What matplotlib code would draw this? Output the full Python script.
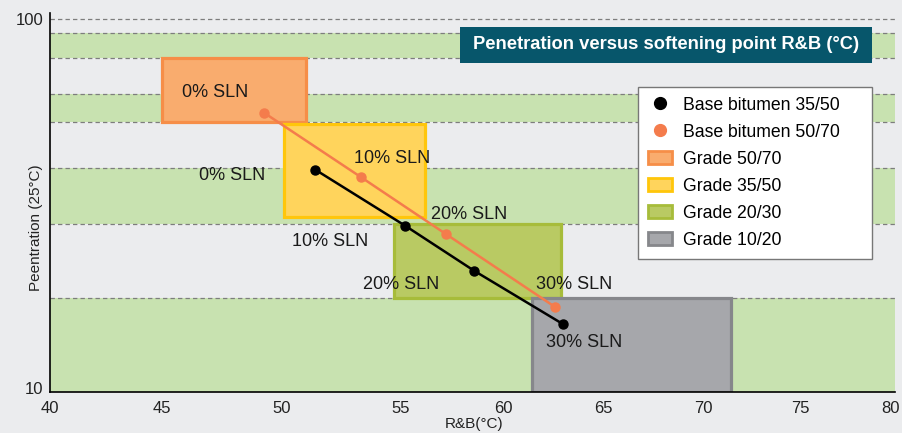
import numpy as np
import matplotlib
matplotlib.use('Agg')
import matplotlib.pyplot as plt
from matplotlib.patches import Rectangle, Patch
from matplotlib.lines import Line2D
import matplotlib.transforms as mtransforms

# ---------------- data ----------------
sln_levels = [0, 10, 20, 30]

rb_3550 = [51.4, 55.2, 58.6, 63.0]
pen_3550 = [39.4, 27.9, 21.1, 15.2]

rb_5070 = [49.25, 53.3, 57.2, 62.6]
pen_5070 = [56.0, 37.7, 26.5, 16.9]

grade_names = ['Grade 50/70', 'Grade 35/50', 'Grade 20/30', 'Grade 10/20']
grade_rb_min = [45.0, 50.1, 54.7, 61.45]
grade_rb_max = [51.0, 56.2, 62.9, 71.45]
grade_pen_min = [53.0, 29.5, 17.9, 10.0]
grade_pen_max = [78.6, 52.3, 28.2, 17.9]

band_low = [10.0, 28.2, 53.0, 78.6]
band_high = [17.9, 39.9, 62.9, 91.7]
grid_levels = [17.9, 28.2, 39.9, 53.0, 62.9, 78.6, 91.7, 100]

x_ticks = [40, 45, 50, 55, 60, 65, 70, 75, 80]
y_ticks = [10, 100]

title = 'Penetration versus softening point R&B (°C)'
series_names = ['Base bitumen 35/50', 'Base bitumen 50/70']

# ---------------- style ----------------
BG = '#EBECEE'
BAND = '#C8E2B0'
TITLE_BG = '#07566B'
BLACK = '#000000'
ORANGE = '#F47C4C'
grade_fill = ['#F9AC6E', '#FFD45C', '#B9CA63', '#A6A7AB']
grade_edge = ['#F68E48', '#FFC60B', '#A7BC3A', '#86878B']

# piecewise-linear x scale (tick spacing of the original axis)
X_KNOTS = np.array([0, 112, 232, 351, 453, 553, 653, 750, 845], float)
XT = np.array(x_ticks, float)


def fwd(v):
    v = np.asarray(v, float)
    out = np.interp(v, XT, X_KNOTS)
    lo_s = (X_KNOTS[1] - X_KNOTS[0]) / (XT[1] - XT[0])
    hi_s = (X_KNOTS[-1] - X_KNOTS[-2]) / (XT[-1] - XT[-2])
    out = np.where(v < XT[0], X_KNOTS[0] + (v - XT[0]) * lo_s, out)
    out = np.where(v > XT[-1], X_KNOTS[-1] + (v - XT[-1]) * hi_s, out)
    return out


def inv(p):
    p = np.asarray(p, float)
    out = np.interp(p, X_KNOTS, XT)
    lo_s = (XT[1] - XT[0]) / (X_KNOTS[1] - X_KNOTS[0])
    hi_s = (XT[-1] - XT[-2]) / (X_KNOTS[-1] - X_KNOTS[-2])
    out = np.where(p < X_KNOTS[0], XT[0] + (p - X_KNOTS[0]) * lo_s, out)
    out = np.where(p > X_KNOTS[-1], XT[-1] + (p - X_KNOTS[-1]) * hi_s, out)
    return out


plt.rcParams['font.family'] = ['Liberation Sans', 'DejaVu Sans']

fig = plt.figure(figsize=(9.02, 4.33), dpi=100, facecolor=BG)
ax = fig.add_axes([50 / 902, 41 / 433, 845 / 902, 379 / 433])
ax.set_facecolor(BG)

ax.set_yscale('log')
ax.set_xscale('function', functions=(fwd, inv))
ax.set_xlim(40, 80)
ax.set_ylim(10, 103.6)

# bands
for lo, hi in zip(band_low, band_high):
    ax.axhspan(lo, hi, color=BAND, lw=0, zorder=0)
for g in grid_levels:
    ax.axhline(g, color='#7d7d7d', lw=0.9, ls=(0, (3.5, 2.5)), zorder=1)

# grade rectangles
for i in range(len(grade_names)):
    ax.add_patch(Rectangle((grade_rb_min[i], grade_pen_min[i]),
                           grade_rb_max[i] - grade_rb_min[i],
                           grade_pen_max[i] - grade_pen_min[i],
                           facecolor=grade_fill[i], edgecolor=grade_edge[i],
                           lw=2.3, zorder=2))

# lines
ax.plot(rb_5070, pen_5070, color=ORANGE, lw=1.8, marker='o', ms=6.5, zorder=4)
ax.plot(rb_3550, pen_3550, color=BLACK, lw=1.8, marker='o', ms=6.5, zorder=5)

labels = [f'{s}% SLN' for s in sln_levels]
off_black = [(-83, -6), (-75, -16), (-73, -14), (21, -18)]
off_orange = [(-49, 20), (32, 18), (23, 20), (19, 22)]
for i, lab in enumerate(labels):
    ax.annotate(lab, (rb_3550[i], pen_3550[i]), xytext=off_black[i],
                textcoords='offset pixels', ha='center', va='center',
                fontsize=13, color='#1a1a1a', zorder=6)
    ax.annotate(lab, (rb_5070[i], pen_5070[i]), xytext=off_orange[i],
                textcoords='offset pixels', ha='center', va='center',
                fontsize=13, color='#1a1a1a', zorder=6)

# axes styling
for s in ['top', 'right']:
    ax.spines[s].set_visible(False)
for s in ['left', 'bottom']:
    ax.spines[s].set_color('black')
    ax.spines[s].set_linewidth(1.2)
ax.set_xticks(x_ticks)
ax.set_xticklabels([str(t) for t in x_ticks])
ax.set_yticks(y_ticks)
ax.set_yticklabels([str(t) for t in y_ticks])
ax.yaxis.set_minor_locator(matplotlib.ticker.NullLocator())
ax.tick_params(axis='both', length=0, labelsize=12, colors='#222222')
ax.tick_params(axis='x', pad=6.5)
ax.tick_params(axis='y', pad=5)

# keep the last x tick label inside the figure
last = ax.get_xticklabels()[-1]
last.set_transform(last.get_transform() +
                   mtransforms.ScaledTranslation(-4 / 100, 0, fig.dpi_scale_trans))
# lift "10" slightly like the original
first_y = ax.get_yticklabels()[0]
first_y.set_transform(first_y.get_transform() +
                      mtransforms.ScaledTranslation(0, 4 / 100, fig.dpi_scale_trans))

ax.set_ylabel('Peentration (25°C)', fontsize=11, color='#222222')
ax.yaxis.set_label_coords(-0.008, 0.433)
ax.set_xlabel('R&B(°C)', fontsize=11, color='#222222')
ax.xaxis.set_label_coords(0.5018, -0.066)

# title box
ax.add_patch(Rectangle((0.4852, 0.868), 0.4876, 0.095, transform=ax.transAxes,
                       facecolor=TITLE_BG, edgecolor='none', zorder=7))
ax.text(0.729, 0.9156, title, transform=ax.transAxes, ha='center', va='center',
        color='white', fontweight='bold', fontsize=13.2, zorder=8)

# legend
handles = [
    Line2D([], [], marker='o', ls='', ms=8.5, color=BLACK),
    Line2D([], [], marker='o', ls='', ms=8.5, color=ORANGE),
]
for i in range(len(grade_names)):
    handles.append(Patch(facecolor=grade_fill[i], edgecolor=grade_edge[i], lw=2))
leg = ax.legend(handles, series_names + grade_names,
                bbox_to_anchor=(0.6959, 0.0, 0.2769, 0.8047), loc='upper left',
                mode='expand', borderaxespad=0, fontsize=12.7, frameon=True,
                fancybox=False, framealpha=1, edgecolor='#777777',
                labelspacing=0.57, handlelength=1.35, handleheight=0.75,
                handletextpad=0.65, borderpad=0.55)
leg.get_frame().set_linewidth(1.0)
leg.set_zorder(9)

fig.savefig('out.png', dpi=100, facecolor=BG)
